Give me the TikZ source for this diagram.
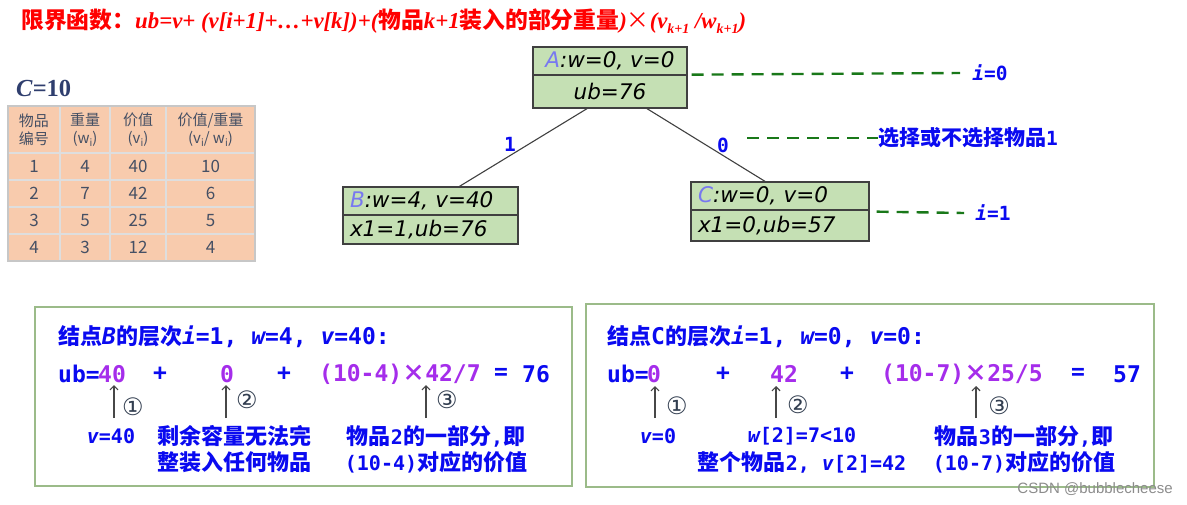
\documentclass[tikz,border=0pt]{standalone}
\usepackage{fontspec}
\usetikzlibrary{arrows.meta,calc}
\newfontfamily\cjk{Noto Sans CJK SC}
\newfontfamily\mono{DejaVu Sans Mono}
\newfontfamily\dvs{DejaVu Sans}
\newfontfamily\tser{Liberation Serif}
\newfontfamily\lsans{Liberation Sans}
\definecolor{myblue}{RGB}{10,10,240}
\definecolor{mypurple}{RGB}{165,45,235}
\definecolor{nodefill}{RGB}{197,224,180}
\definecolor{nodeline}{RGB}{64,64,64}
\definecolor{framecol}{RGB}{155,187,137}
\definecolor{dashgreen}{RGB}{25,120,25}
\definecolor{tabfill}{RGB}{248,203,173}
\definecolor{tabline}{RGB}{222,222,222}
\definecolor{tabtext}{RGB}{70,80,100}
\definecolor{navy}{RGB}{47,62,110}
\definecolor{circcol}{RGB}{50,62,80}
\definecolor{letcol}{RGB}{120,120,240}
\newcommand{\zhb}[1]{{\cjk\bfseries #1}}
\newcommand{\zhbs}[2]{{\cjk\bfseries\fontsize{#1}{26}\selectfont #2}}
\newcommand{\zhr}[1]{{\cjk #1}}
\newcommand{\monob}[1]{{\mono\bfseries #1}}
\newcommand{\monoi}[1]{{\mono\bfseries\itshape #1}}
\newcommand{\tsbi}[1]{{\tser\bfseries\itshape #1}}
\newcommand{\tsub}[1]{\raisebox{-5pt}{\fontsize{14}{14}\selectfont #1}}
\newcommand{\tabsub}[1]{\raisebox{-2.5pt}{\fontsize{10}{10}\selectfont #1}}
\newcommand{\fsz}[1]{\fontsize{#1}{#1}\selectfont}
\begin{document}
\begin{tikzpicture}[x=1pt,y=-1pt,
  treebox/.style={draw=nodeline,fill=nodefill,line width=1.3pt,inner sep=0pt},
  boxtxt/.style={font={\dvs\itshape\fsz{21.5}}},
  leftbox/.style={treebox,boxtxt,text width=#1,align=left,inner xsep=7pt},
  treeedge/.style={draw=black!75,line width=1.1pt},
  lvl/.style={draw=dashgreen,line width=2.4pt,dash pattern=on 12pt off 8pt},
  lvltxt/.style={text=myblue,inner sep=0pt,font={\fsz{19.5}}},
  framebox/.style={draw=framecol,line width=1.5pt,fill=white},
  tcell/.style={font={\cjk\fontsize{15}{18}\selectfont},text=tabtext,align=center,inner sep=0pt},
  tnum/.style={tcell,font={\cjk\fsz{17}}},
  uparrow/.style={draw=black!72,line width=1.2pt,-{Straight Barb[length=4pt,width=8pt]}},
  circnum/.style={font={\dvs\fsz{24}},text=circcol,inner sep=0pt},
  eqpart/.style={inner sep=0pt,font={\mono\bfseries\fsz{23}},text=myblue},
  purp/.style={eqpart,text=mypurple},
  headline/.style={anchor=west,inner sep=0pt,text=myblue,font={\fsz{23}}},
  note/.style={inner sep=0pt,text=myblue,font={\fontsize{20}{26}\selectfont},align=center},
]
\useasboundingbox (0,0) rectangle (1187,504);

% title
\node[anchor=west,inner sep=0pt,text=red,font={\fsz{22.8}}] (title) at (21,21)
 {\zhb{限界函数：}\tsbi{ub=v+ (v[i+1]+…+v[k])+(}\zhb{物品}\tsbi{k+1}\zhb{装入的部分重量}\tsbi{)}\zhr{×}\tsbi{(v\tsub{k+1} /w\tsub{k+1})}};

% C=10
\node[anchor=west,inner sep=0pt,text=navy,font={\tser\bfseries\fsz{24.5}}] (cap) at (16,88) {\textit{C}=10};

% table
\fill[tabfill] (8,106) rectangle (255,261);
\foreach \yy in {153,180,207,234} \draw[tabline,line width=1.8pt] (8,\yy) -- (255,\yy);
\foreach \xx in {60,110,166} \draw[tabline,line width=1.8pt] (\xx,106) -- (\xx,261);
\draw[black!22,line width=1.4pt] (8,106) rectangle (255,261);
\node[tcell] (h1) at (34,130) {物品\\编号};
\node[tcell] (h2) at (85,130) {重量\\(w\tabsub{i})};
\node[tcell] (h3) at (138,130) {价值\\(v\tabsub{i})};
\node[tcell] (h4) at (210.5,130) {价值/重量\\(\textit{v}\tabsub{\textit{i}}/ \textit{w}\tabsub{\textit{i}})};
\foreach \r/\yy/\a/\b/\c/\d in {1/166.5/1/4/40/10, 2/193.5/2/7/42/6, 3/220.5/3/5/25/5, 4/247.5/4/3/12/4}{
  \node[tnum] (ra\r) at (34,\yy) {\a};
  \node[tnum] (rb\r) at (85,\yy) {\b};
  \node[tnum] (rc\r) at (138,\yy) {\c};
  \node[tnum] (rd\r) at (210.5,\yy) {\d};
}

% tree nodes
\node[treebox,minimum width=154pt,minimum height=33pt,boxtxt] (A2) at (610,91.5) {\textit{ub}=76};
\node[treebox,minimum width=154pt,minimum height=28pt,boxtxt] (A1) at (610,61) {\textcolor{letcol}{A}:w=0, v=0};
\node[leftbox=161pt,minimum height=29pt] (B2) at (430.5,229.5) {x1=1,ub=76};
\node[leftbox=161pt,minimum height=28pt] (B1) at (430.5,201) {\textcolor{letcol}{B}:w=4, v=40};
\node[leftbox=164pt,minimum height=31pt] (C2) at (780,225.5) {x1=0,ub=57};
\node[leftbox=164pt,minimum height=28pt] (C1) at (780,196) {\textcolor{letcol}{C}:w=0, v=0};

\draw[treeedge] ($(A2.south)+(-23,0)$) -- ($(B1.north)+(29,0)$);
\draw[treeedge] ($(A2.south)+(37,0)$) -- ($(C1.north)+(-15,0)$);
\node[lvltxt] (e1) at (510,144) {\monob{1}};
\node[lvltxt] (e0) at (723,145) {\monob{0}};

% level lines
\node[lvltxt] (i0) at (990,73) {\monoi{i}\monob{=0}};
\draw[lvl] ($(A1.south east)+(4,-1)$) -- ($(i0.west)+(-12,0)$);
\coordinate (sel0) at (747,138);
\node[lvltxt,anchor=west] (sel) at (878,138) {\zhbs{21}{选择或不选择物品}\monob{1}};
\draw[lvl] (sel0) -- (sel.west);
\node[lvltxt] (i1) at (993,213) {\monoi{i}\monob{=1}};
\draw[lvl] ($(C1.south east)+(7,1)$) -- ($(i1.west)+(-11,0)$);

% bottom frames
\node[framebox,minimum width=537pt,minimum height=179pt] (fL) at (303.5,396.5) {};
\node[framebox,minimum width=568pt,minimum height=183pt] (fR) at (870,395.5) {};

% left frame text
\node[headline] (Lh) at (58,337)
 {\zhbs{22}{结点}\monoi{B}\zhbs{22}{的层次}\monoi{i}\monob{=1, }\monoi{w}\monob{=4, }\monoi{v}\monob{=40:}};
\node[eqpart,anchor=west] (Lub) at (58,374) {ub=};
\node[purp,anchor=west] (L40) at (98,374) {40};
\node[eqpart] (Lp1) at (160,374) {+};
\node[purp] (L0) at (227,374) {0};
\node[eqpart] (Lp2) at (284,374) {+};
\node[purp,anchor=west] (Lfr) at (319,374) {(10-4)\zhr{×}42/7};
\node[eqpart] (Leq) at (501,374) {=};
\node[eqpart] (L76) at (536,374) {76};
\coordinate (La1b) at (114,418); \coordinate (La1t) at (114,385);
\coordinate (La2b) at (226,418); \coordinate (La2t) at (226,385);
\coordinate (La3b) at (426,418); \coordinate (La3t) at (426,385);
\draw[uparrow] (La1b) -- (La1t);
\draw[uparrow] (La2b) -- (La2t);
\draw[uparrow] (La3b) -- (La3t);
\node[circnum] (Lc1) at (133,407) {①};
\node[circnum] (Lc2) at (247,400) {②};
\node[circnum] (Lc3) at (447,400) {③};
\node[note] (Ln1) at (111,436) {\monoi{v}\monob{=40}};
\node[note] (Ln2) at (234,449) {\zhbs{22}{剩余容量无法完}\\\zhbs{22}{整装入任何物品}};
\node[note] (Ln3) at (436,449) {\zhbs{22}{物品}\monob{2}\zhbs{22}{的一部分}\monob{,}\zhbs{22}{即}\\\monob{(10-4)}\zhbs{22}{对应的价值}};

% right frame text
\node[headline] (Rh) at (607,337)
 {\zhbs{22}{结点}\monob{C}\zhbs{22}{的层次}\monoi{i}\monob{=1, }\monoi{w}\monob{=0, }\monoi{v}\monob{=0:}};
\node[eqpart,anchor=west] (Rub) at (607,374) {ub=};
\node[purp,anchor=west] (R0) at (647,374) {0};
\node[eqpart] (Rp1) at (723,374) {+};
\node[purp] (R42) at (784,374) {42};
\node[eqpart] (Rp2) at (847,374) {+};
\node[purp,anchor=west] (Rfr) at (881,374) {(10-7)\zhr{×}25/5};
\node[eqpart] (Req) at (1078,374) {=};
\node[eqpart] (R57) at (1127,374) {57};
\coordinate (Ra1b) at (655,418); \coordinate (Ra1t) at (655,386);
\coordinate (Ra2b) at (776,418); \coordinate (Ra2t) at (776,386);
\coordinate (Ra3b) at (976,418); \coordinate (Ra3t) at (976,386);
\draw[uparrow] (Ra1b) -- (Ra1t);
\draw[uparrow] (Ra2b) -- (Ra2t);
\draw[uparrow] (Ra3b) -- (Ra3t);
\node[circnum] (Rc1) at (677,406) {①};
\node[circnum] (Rc2) at (798,405) {②};
\node[circnum] (Rc3) at (999,406) {③};
\node[note] (Rn1) at (658,436) {\monoi{v}\monob{=0}};
\node[note] (Rn2) at (802,436) {\monoi{w}\monob{[2]=7<10}};
\node[note] (Rn3) at (802,462) {\zhbs{22}{整个物品}\monob{2, }\monoi{v}\monob{[2]=42}};
\node[note] (Rn4) at (1024,449) {\zhbs{22}{物品}\monob{3}\zhbs{22}{的一部分}\monob{,}\zhbs{22}{即}\\\monob{(10-7)}\zhbs{22}{对应的价值}};

% watermark
\node[anchor=east,inner sep=0pt,text=black!45,font={\lsans\fsz{15}}] (wm) at (1173,489) {CSDN @bubblecheese};
\end{tikzpicture}
\end{document}
